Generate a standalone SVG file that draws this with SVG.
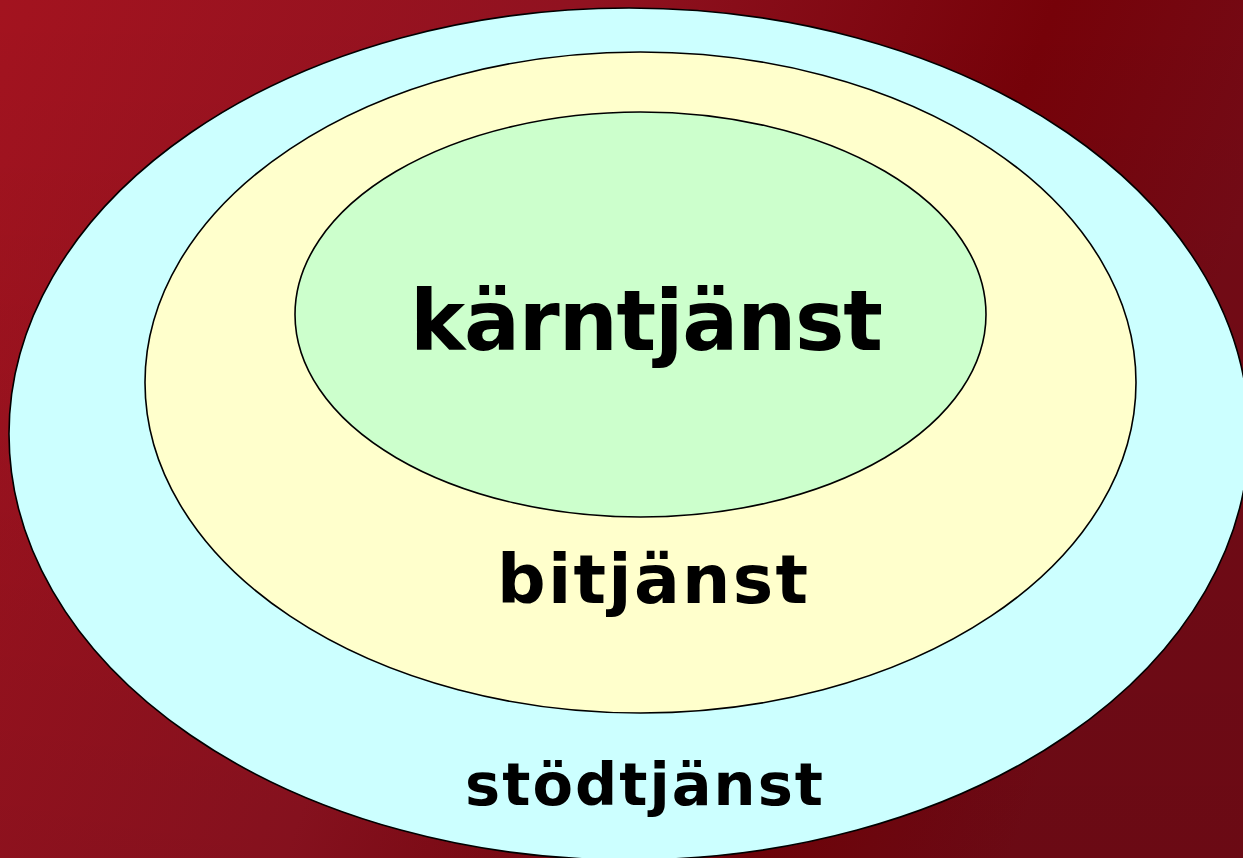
<svg xmlns="http://www.w3.org/2000/svg" width="1243" height="858" viewBox="0 0 1243 858">
  <defs>
    <linearGradient id="bg" x1="0" y1="0" x2="1" y2="0.25">
      <stop offset="0" stop-color="#A3131F"/>
      <stop offset="0.45" stop-color="#901220"/>
      <stop offset="0.8" stop-color="#760209"/>
      <stop offset="1" stop-color="#740B16"/>
    </linearGradient>
    <linearGradient id="shade" x1="0" y1="0" x2="0" y2="1">
      <stop offset="0" stop-color="#000" stop-opacity="0"/>
      <stop offset="1" stop-color="#000" stop-opacity="0.08"/>
    </linearGradient>
  </defs>
  <style>
    .ring { stroke: #000; stroke-width: 1.6; }
    .lbl { font-family: "DejaVu Sans", "Liberation Sans", sans-serif; font-weight: bold; fill: #000; text-anchor: middle; }
  </style>
  <rect x="0" y="0" width="1243" height="858" fill="url(#bg)"/>
  <rect x="0" y="0" width="1243" height="858" fill="url(#shade)"/>
  <g id="stodtjanst">
    <ellipse class="ring" cx="629" cy="434" rx="620" ry="426" fill="#CCFFFF"/>
    <text class="lbl" x="644" y="805" font-size="59" textLength="358" lengthAdjust="spacing">stödtjänst</text>
  </g>
  <g id="bitjanst">
    <ellipse class="ring" cx="640.5" cy="382.5" rx="495.5" ry="330.5" fill="#FFFFCC"/>
    <text class="lbl" x="652.5" y="603" font-size="68" textLength="311" lengthAdjust="spacing">bitjänst</text>
  </g>
  <g id="karntjanst">
    <ellipse class="ring" cx="640.5" cy="314.5" rx="345.5" ry="202.5" fill="#CCFFCC"/>
    <text class="lbl" x="646.5" y="350" font-size="83" textLength="473" lengthAdjust="spacing">kärntjänst</text>
  </g>
  <g id="connectors"/>
</svg>
